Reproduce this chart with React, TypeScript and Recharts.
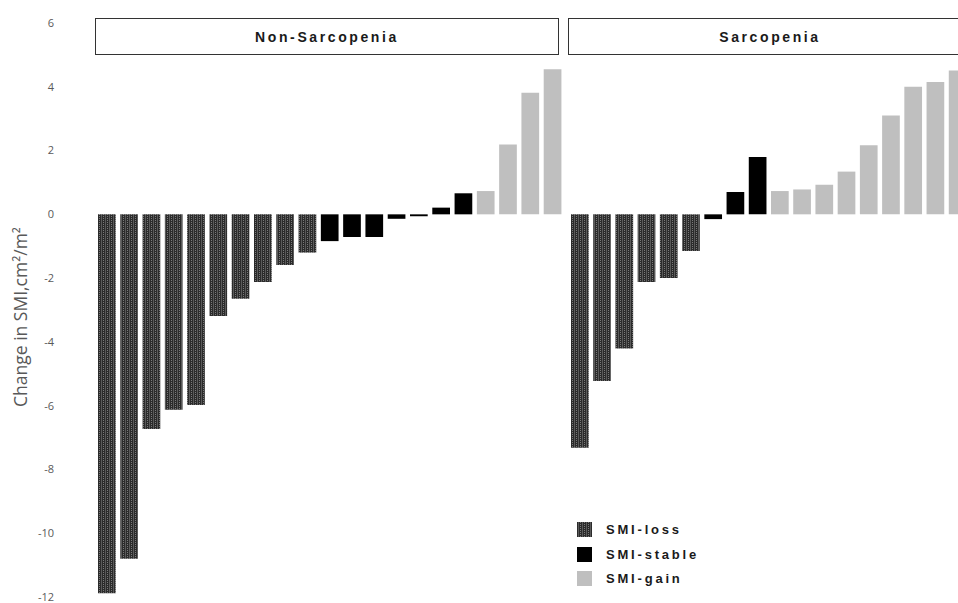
import React from 'react';
import { BarChart, Bar, XAxis, YAxis, Cell } from 'recharts';

// values, cm²/m²
const nonSarcLoss = [-11.88, -10.8, -6.73, -6.13, -5.98, -3.19, -2.65, -2.12, -1.59, -1.2];
const nonSarcStable = [-0.84, -0.71, -0.71, -0.14, -0.06, 0.21, 0.66];
const nonSarcGain = [0.73, 2.19, 3.81, 4.55];

const sarcLoss = [-7.32, -5.23, -4.21, -2.12, -2.0, -1.15];
const sarcStable = [-0.15, 0.7, 1.8];
const sarcGain = [0.73, 0.78, 0.93, 1.34, 2.17, 3.1, 4.0, 4.15, 4.51];

const yTicks = [-12, -10, -8, -6, -4, -2, 0, 2, 4, 6];
const groups = ['SMI-loss', 'SMI-stable', 'SMI-gain'];

const fills: Record<string, string> = {
  'SMI-loss': 'url(#lossPattern)',
  'SMI-stable': '#000000',
  'SMI-gain': '#bfbfbf',
};

function buildRows(prefix: string, loss: number[], stable: number[], gain: number[]) {
  const rows: { id: string; value: number; group: string }[] = [];
  [loss, stable, gain].forEach((vals, gi) => {
    vals.forEach((v) => rows.push({ id: `${prefix}${rows.length + 1}`, value: v, group: groups[gi] }));
  });
  return rows;
}

const nonSarcData = buildRows('N', nonSarcLoss, nonSarcStable, nonSarcGain);
const sarcData = buildRows('S', sarcLoss, sarcStable, sarcGain);

const labelFont = '"Liberation Sans", Arial, sans-serif';

const headerStyle: React.CSSProperties = {
  position: 'absolute',
  top: 18,
  height: 37,
  boxSizing: 'border-box',
  border: '1.5px solid #333',
  background: '#fff',
  display: 'flex',
  alignItems: 'center',
  justifyContent: 'center',
  fontFamily: labelFont,
  fontSize: 14,
  fontWeight: 'bold',
  letterSpacing: 2.6,
  color: '#1a1a1a',
};

function LegendSwatch({ group, top }: { group: string; top: number }) {
  return (
    <div style={{ position: 'absolute', left: 577, top, display: 'flex', alignItems: 'center' }}>
      <svg width={15} height={15}>
        <rect width={15} height={15} fill={fills[group]} />
      </svg>
      <span
        style={{
          marginLeft: 14,
          fontFamily: labelFont,
          fontSize: 13,
          fontWeight: 'bold',
          letterSpacing: 2.8,
          color: '#1a1a1a',
        }}
      >
        {group}
      </span>
    </div>
  );
}

export default function App() {
  return (
    <div style={{ position: 'absolute', left: 0, top: 0, width: 958, height: 603, overflow: 'hidden', background: '#fff' }}>
      <svg width={0} height={0} style={{ position: 'absolute' }}>
        <defs>
          <pattern id="lossPattern" width={4} height={4} patternUnits="userSpaceOnUse">
            <rect width={4} height={4} fill="#2b2b2b" />
            <rect x={1} width={1} height={4} fill="#5a5a5a" />
            <rect x={3} y={0} width={1} height={1} fill="#7a7a7a" />
            <rect x={3} y={2} width={1} height={1} fill="#7a7a7a" />
          </pattern>
        </defs>
      </svg>

      <div style={{ ...headerStyle, left: 95, width: 464 }}>Non-Sarcopenia</div>
      <div style={{ ...headerStyle, left: 568, width: 404 }}>Sarcopenia</div>

      <div style={{ position: 'absolute', left: 0, top: 0 }}>
        <BarChart width={564} height={603} data={nonSarcData} margin={{ top: 23, right: 0, bottom: 6, left: 0 }} barSize={17.7}>
          <XAxis dataKey="id" hide />
          <YAxis
            domain={[-12, 6]}
            ticks={yTicks}
            width={96}
            axisLine={false}
            tickLine={false}
            tickSize={0}
            tickMargin={42}
            tick={{ fill: '#595959', fontSize: 11, fontFamily: '"Open Sans", sans-serif' }}
          />
          <Bar dataKey="value" isAnimationActive={false}>
            {nonSarcData.map((d) => (
              <Cell key={d.id} fill={fills[d.group]} />
            ))}
          </Bar>
        </BarChart>
      </div>

      <div style={{ position: 'absolute', left: 569, top: 0 }}>
        <BarChart width={400} height={603} data={sarcData} margin={{ top: 23, right: 0, bottom: 6, left: 0 }} barSize={17.7}>
          <XAxis dataKey="id" hide />
          <YAxis domain={[-12, 6]} ticks={yTicks} hide />
          <Bar dataKey="value" isAnimationActive={false}>
            {sarcData.map((d) => (
              <Cell key={d.id} fill={fills[d.group]} />
            ))}
          </Bar>
        </BarChart>
      </div>

      <div
        style={{
          position: 'absolute',
          left: 20,
          top: 317,
          transform: 'translate(-50%, -50%) rotate(-90deg)',
          whiteSpace: 'nowrap',
          fontFamily: '"Open Sans", sans-serif',
          fontSize: 17.5,
          color: '#595959',
        }}
      >
        Change in SMI,cm²/m²
      </div>

      <LegendSwatch group="SMI-loss" top={522} />
      <LegendSwatch group="SMI-stable" top={547} />
      <LegendSwatch group="SMI-gain" top={571} />
    </div>
  );
}
